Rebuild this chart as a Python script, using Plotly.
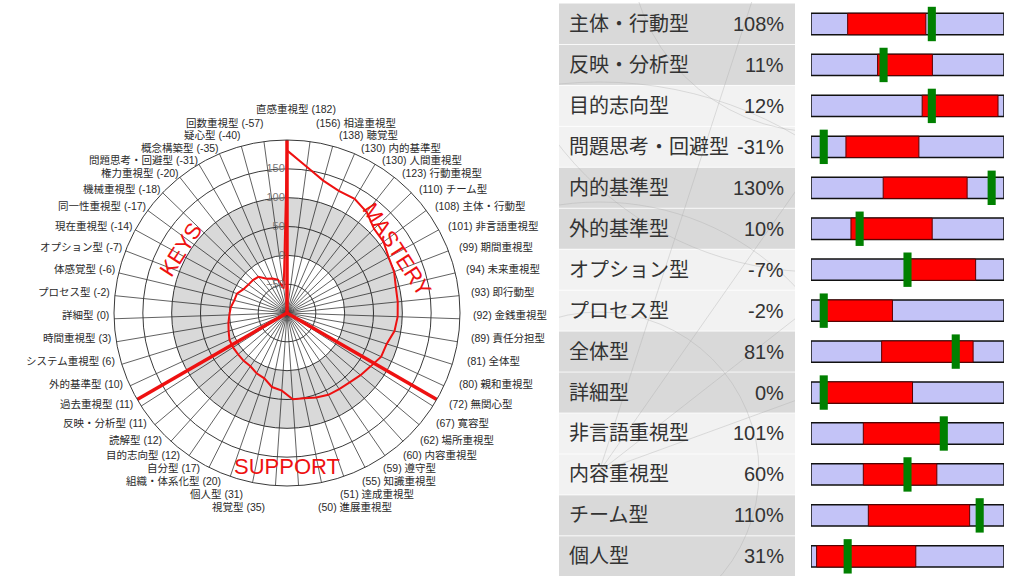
import numpy as np
import plotly.graph_objects as go

W, H = 1024, 576

# ---------------- polar (radar) data : clockwise from top ----------------
POLAR_TYPES = ["直感重視型", "相違重視型", "聴覚型", "内的基準型", "人間重視型", "行動重視型",
               "チーム型", "主体・行動型", "非言語重視型", "期間重視型", "未来重視型", "即行動型",
               "金銭重視型", "責任分担型", "全体型", "親和重視型", "無関心型", "寛容型",
               "場所重視型", "内容重視型", "遵守型", "知識重視型", "達成重視型", "進展重視型",
               "視覚型", "個人型", "組織・体系化型", "自分型", "目的志向型", "読解型",
               "反映・分析型", "過去重視型", "外的基準型", "システム重視型", "時間重視型", "詳細型",
               "プロセス型", "体感覚型", "オプション型", "現在重視型", "同一性重視型", "機械重視型",
               "権力重視型", "問題思考・回避型", "概念構築型", "疑心型", "回数重視型"]
POLAR_VALUES = [182, 156, 138, 130, 130, 123, 110, 108, 101, 99, 94, 93, 92, 89, 81, 80,
                72, 67, 62, 60, 59, 55, 51, 50, 35, 31, 20, 17, 12, 12, 11, 11, 10, 6, 3, 0,
                -2, -6, -7, -14, -17, -18, -20, -31, -35, -40, -57]
RADIAL_TICKS = [-50, 0, 50, 100, 150]
SECTOR_NAMES = ["MASTERY", "SUPPORT", "KEYS"]
SECTOR_BOUNDS = [0, 120, 240]

# ---------------- right-hand table data ----------------
ROW_LABELS = ["主体・行動型", "反映・分析型", "目的志向型", "問題思考・回避型", "内的基準型",
              "外的基準型", "オプション型", "プロセス型", "全体型", "詳細型", "非言語重視型",
              "内容重視型", "チーム型", "個人型"]
ROW_PCT = [108, 11, 12, -31, 130, 10, -7, -2, 81, 0, 101, 60, 110, 31]
RANGE_LOW = [19.0, 34.5, 57.6, 18.1, 37.4, 20.7, 50.3, 6.4, 36.6, 6.4, 27.1, 27.1, 29.7, 2.9]
RANGE_HIGH = [59.5, 62.9, 96.9, 55.9, 80.9, 62.8, 85.3, 42.2, 84.0, 52.6, 67.6, 65.2, 82.2, 54.3]
MARKER_POS = [62.6, 37.6, 62.6, 6.6, 93.6, 25.2, 50.0, 6.6, 75.0, 6.6, 68.8, 50.0, 87.4, 19.0]

FONT = "Liberation Sans, Noto Sans CJK JP, sans-serif"
N = len(POLAR_TYPES)
step = 360.0 / N
angles = [i * step for i in range(N)]

fig = go.Figure()

# grey band between 0% and 100%
tt = list(np.linspace(0, 360, 361))
fig.add_trace(go.Scatterpolar(r=[100] * 361 + [0] * 361, theta=tt + tt[::-1], mode="lines",
                              fill="toself", fillcolor="rgba(0,0,0,0.15)",
                              line=dict(width=0, color="rgba(0,0,0,0)"), hoverinfo="skip"))
# sector boundaries
for a in SECTOR_BOUNDS:
    fig.add_trace(go.Scatterpolar(r=[-100, 200], theta=[a, a], mode="lines",
                                  line=dict(color="#ee1111", width=3.5), hoverinfo="skip"))
# data line
fig.add_trace(go.Scatterpolar(r=POLAR_VALUES + [POLAR_VALUES[0]], theta=angles + [360],
                              mode="lines", line=dict(color="#ee1111", width=2)))

# ---------------- bars ----------------
rows = list(range(len(ROW_LABELS)))
fig.add_trace(go.Bar(orientation="h", y=rows, x=[100] * len(rows), base=[0] * len(rows),
                     width=0.52, marker=dict(color="#c3c3f7", line=dict(color="#111", width=1.5)),
                     xaxis="x", yaxis="y", hoverinfo="skip"))
fig.add_trace(go.Bar(orientation="h", y=rows, x=[h - l for l, h in zip(RANGE_LOW, RANGE_HIGH)],
                     base=RANGE_LOW, width=0.52,
                     marker=dict(color="#ff0000", line=dict(color="#5a0000", width=1)),
                     xaxis="x", yaxis="y", hoverinfo="skip"))
fig.add_trace(go.Bar(orientation="h", y=rows, x=[4.2] * len(rows), base=[m - 2.1 for m in MARKER_POS],
                     width=0.84, marker=dict(color="#008000", line=dict(width=0)),
                     xaxis="x", yaxis="y", hoverinfo="skip"))

# ---------------- layout helpers ----------------
cx, cy, R = 287, 313, 173
shapes = []
annotations = []

# angular category labels, placed radially outside the circle (stacked near top/bottom)
pos = {}
for k in range(N):
    th = np.radians(angles[k])
    c = np.cos(th)
    px = cx + R * np.sin(th)
    py = cy - R * c
    dy = -4 if c >= 0 else -4 * (1 + c)
    if k == 0:
        lx = px + 9
    elif angles[k] < 180:
        lx = px + 5 + 6.5 * (1 - c)
    else:
        lx = px + 1 - 5 * (1 - c)
    pos[k] = [lx, py + dy]
right_up = [k for k in range(1, N) if angles[k] < 90]
right_dn = [k for k in range(1, N) if 90 <= angles[k] < 180]
left_dn = [k for k in range(1, N) if 180 <= angles[k] < 270]
left_up = [k for k in range(1, N) if angles[k] >= 270]
for k in sorted(right_up, reverse=True)[1:]:
    pos[k][1] = min(pos[k][1], pos[k + 1][1] - 12.5)
for k in sorted(right_dn)[1:]:
    pos[k][1] = max(pos[k][1], pos[k - 1][1] + 13)
for k in sorted(left_dn, reverse=True)[1:]:
    pos[k][1] = max(pos[k][1], pos[k + 1][1] + 13)
for k in sorted(left_up)[1:]:
    pos[k][1] = min(pos[k][1], pos[k - 1][1] - 12.5)
pos[0][1] = min(pos[0][1], pos[1][1] - 14, pos[N - 1][1] - 14)

for k, (name, v) in enumerate(zip(POLAR_TYPES, POLAR_VALUES)):
    if k == 0:
        txt, anc = f"{name} ({v})", "center"
    elif angles[k] < 180:
        txt, anc = f"({v}) {name}", "left"
    else:
        txt, anc = f"{name} ({v})", "right"
    annotations.append(dict(xref="paper", yref="paper", x=pos[k][0] / W, y=1 - pos[k][1] / H,
                            text=txt, showarrow=False, xanchor=anc, yanchor="middle", borderpad=0,
                            font=dict(family=FONT, size=10.5, color="#2a2a2a")))

# table backgrounds
tx0, tx1 = 559 / W, 795 / W
group_col = ["#d9d9d9", "#f2f2f2"]
for i in rows:
    col = group_col[(i // 2) % 2]
    shapes.append(dict(type="rect", xref="paper", yref="y", x0=tx0, x1=tx1, y0=i - 0.5, y1=i + 0.5,
                       fillcolor=col, line=dict(width=0), layer="below"))
for i in rows[1:]:
    shapes.append(dict(type="line", xref="paper", yref="y", x0=tx0, x1=tx1, y0=i - 0.5, y1=i - 0.5,
                       line=dict(color="rgba(255,255,255,0.8)", width=1), layer="below"))
# faint watermark web behind the table
wm = "rgba(170,170,170,0.35)"
for (ccx, ccy, rr) in [(40, 470, 160), (40, 470, 270), (40, 470, 390), (260, -60, 190), (260, -60, 330)]:
    shapes.append(dict(type="circle", xref="x3", yref="y3", x0=ccx - rr, x1=ccx + rr,
                       y0=ccy - rr, y1=ccy + rr, line=dict(color=wm, width=1), layer="below"))
for ang in [20, 38, 55, 72]:
    t = np.radians(ang)
    shapes.append(dict(type="line", xref="x3", yref="y3", x0=40, y0=470,
                       x1=40 + 700 * np.cos(t), y1=470 - 700 * np.sin(t),
                       line=dict(color=wm, width=1), layer="below"))

for i, (lab, p) in enumerate(zip(ROW_LABELS, ROW_PCT)):
    annotations.append(dict(xref="paper", yref="y", x=567 / W, y=i, text=lab, showarrow=False,
                            xanchor="left", yanchor="middle",
                            font=dict(family=FONT, size=20, color="#333")))
    annotations.append(dict(xref="paper", yref="y", x=786 / W, y=i, text=f"{p}%", showarrow=False,
                            xanchor="right", yanchor="middle",
                            font=dict(family=FONT, size=20, color="#333")))

# sector names
sector_pos = {"KEYS": (301, 124, -57), "MASTERY": (60, 127, 57), "SUPPORT": (180, 153, 0)}
for name in SECTOR_NAMES:
    a, rp, ta = sector_pos[name]
    px = cx + rp * np.sin(np.radians(a))
    py = cy - rp * np.cos(np.radians(a))
    annotations.append(dict(xref="paper", yref="paper", x=px / W, y=1 - py / H, text=name,
                            showarrow=False, textangle=ta, xanchor="center", yanchor="middle",
                            font=dict(family="Liberation Sans", size=22, color="#ee1111")))

fig.update_layout(
    width=W, height=H, margin=dict(l=0, r=0, t=0, b=0),
    paper_bgcolor="white", plot_bgcolor="rgba(0,0,0,0)", showlegend=False, barmode="overlay",
    polar=dict(
        domain=dict(x=[(cx - R) / W, (cx + R) / W], y=[1 - (cy + R) / H, 1 - (cy - R) / H]),
        bgcolor="white",
        radialaxis=dict(range=[-100, 200], tickmode="array", tickvals=RADIAL_TICKS, ticksuffix="%",
                        angle=90, side="counterclockwise", showline=False, ticks="",
                        gridcolor="#3a3a3a", gridwidth=1, tickangle=90,
                        tickfont=dict(family=FONT, size=11, color="#777")),
        angularaxis=dict(type="linear", thetaunit="degrees", rotation=90, direction="clockwise",
                         tickmode="array", tickvals=angles, showticklabels=False, showgrid=True,
                         gridcolor="#3a3a3a", gridwidth=0.8, ticks="", showline=True,
                         linecolor="#3a3a3a", linewidth=1),
    ),
    xaxis=dict(domain=[811 / W, 1004 / W], range=[0, 100], visible=False, fixedrange=True),
    yaxis=dict(domain=[0, 1], range=[13.48, -0.586], visible=False, fixedrange=True),
    xaxis3=dict(domain=[tx0, tx1], range=[0, 236], visible=False, anchor="y3"),
    yaxis3=dict(domain=[0, 1 - 2 / H], range=[574, 0], visible=False, anchor="x3"),
    shapes=shapes, annotations=annotations,
)

fig.write_html("out.html", config={"displayModeBar": False, "staticPlot": True},
               post_script="document.body.style.margin='0';document.body.style.padding='0';"
                           "document.body.style.overflow='hidden';")
